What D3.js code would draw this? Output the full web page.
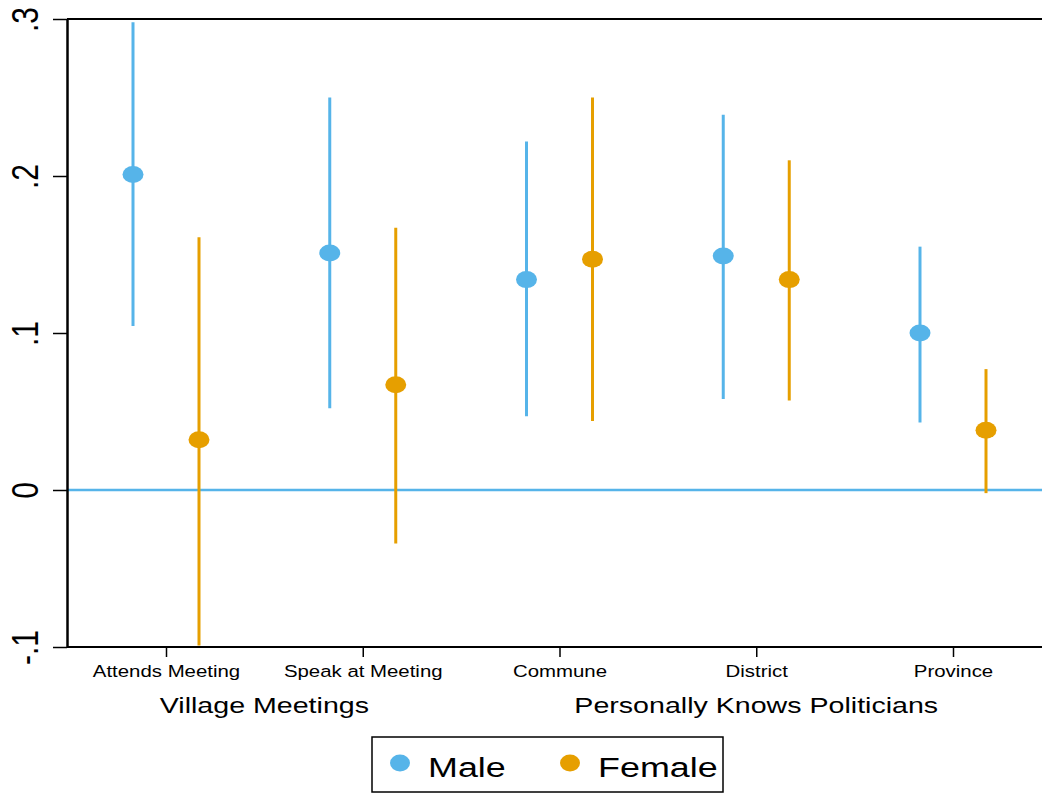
<!DOCTYPE html>
<html><head><meta charset="utf-8">
<script src="https://cdn.jsdelivr.net/npm/d3@7"></script>
<style>body{margin:0;background:#fff}svg{display:block}text{font-family:"Liberation Sans",Arial,sans-serif;fill:#000}</style>
</head><body>
<svg id="c" width="1042" height="793"></svg>
<script>
const categories = ["Attends Meeting","Speak at Meeting","Commune","District","Province"];
const groups = [{label:"Village Meetings", cats:["Attends Meeting","Speak at Meeting"]},
                {label:"Personally Knows Politicians", cats:["Commune","District","Province"]}];
const series = ["Male","Female"];
const maleEst = [0.201,0.151,0.134,0.149,0.100];
const maleLo  = [0.1045,0.052,0.047,0.058,0.043];
const maleHi  = [0.298,0.250,0.222,0.239,0.155];
const femaleEst = [0.032,0.067,0.147,0.134,0.038];
const femaleLo  = [-0.099,-0.034,0.044,0.057,-0.002];
const femaleHi  = [0.161,0.167,0.250,0.210,0.077];
const yTicks = [-0.1,0,0.1,0.2,0.3];
const yTickLabels = ["-.1","0",".1",".2",".3"];
const colors = {Male:"#56B4E9", Female:"#E69F00"};

const svg = d3.select("#c");
const pL = 67, pR = 1042, pT = 19, pB = 647;
const y = d3.scaleLinear().domain([-0.1,0.3]).range([pB,pT]);
const x = d3.scalePoint().domain(categories).range([166,953]);
const off = d3.scaleBand().domain(series).range([-66,66]);
const sx = s => off(s) + off.bandwidth()/2;

// frame
svg.append("line").attr("x1",pL).attr("x2",pR).attr("y1",pT).attr("y2",pT).attr("stroke","#000").attr("stroke-width",2);
// zero line
svg.append("line").attr("x1",pL).attr("x2",pR).attr("y1",y(0)).attr("y2",y(0)).attr("stroke",colors.Male).attr("stroke-width",2.5);

// y axis
const ya = svg.append("g").attr("transform",`translate(${pL},0)`)
  .call(d3.axisLeft(y).tickValues(yTicks).tickSize(14).tickSizeOuter(0).tickFormat((d,i)=>yTickLabels[i]));
ya.select(".domain").attr("stroke","#000").attr("stroke-width",2.5);
ya.selectAll(".tick line").attr("stroke","#000").attr("stroke-width",1.5);
ya.selectAll(".tick text").remove();
ya.selectAll(".tick").append("text")
  .attr("transform","translate(-29,0) scale(1.2,1) rotate(-90)")
  .attr("text-anchor","middle")
  .style("font-size","30px").style("font-family",'"Liberation Sans",Arial,sans-serif').attr("fill","#000")
  .text((d,i)=>yTickLabels[i]);

// x axis
const xa = svg.append("g").attr("transform",`translate(0,${pB})`)
  .call(d3.axisBottom(x).tickSize(10).tickSizeOuter(0));
xa.select(".domain").attr("d",`M${pL},0H${pR}`).attr("stroke","#000").attr("stroke-width",2);
xa.selectAll(".tick line").attr("stroke","#000").attr("stroke-width",1.5);
xa.selectAll(".tick text").remove();
xa.selectAll(".tick").append("text")
  .attr("transform","translate(0,30) scale(1.2,1)")
  .attr("text-anchor","middle")
  .style("font-size","17px").style("font-family",'"Liberation Sans",Arial,sans-serif').attr("fill","#000")
  .text(d=>d);

// group labels
groups.forEach(g=>{
  const cx = d3.mean(g.cats, c=>x(c));
  svg.append("text").attr("transform",`translate(${cx},713) scale(1.3,1)`)
    .attr("text-anchor","middle").style("font-size","22px").text(g.label);
});

// data
const data = [];
categories.forEach((c,i)=>{
  data.push({c, s:"Male", est:maleEst[i], lo:maleLo[i], hi:maleHi[i]});
  data.push({c, s:"Female", est:femaleEst[i], lo:femaleLo[i], hi:femaleHi[i]});
});
const g = svg.append("g");
g.selectAll("line.ci").data(data).join("line").attr("class","ci")
  .attr("x1",d=>x(d.c)+sx(d.s)).attr("x2",d=>x(d.c)+sx(d.s))
  .attr("y1",d=>y(d.lo)).attr("y2",d=>y(d.hi))
  .attr("stroke",d=>colors[d.s]).attr("stroke-width",3);
g.selectAll("ellipse.pt").data(data).join("ellipse").attr("class","pt")
  .attr("cx",d=>x(d.c)+sx(d.s)).attr("cy",d=>y(d.est))
  .attr("rx",10.5).attr("ry",8.5).attr("fill",d=>colors[d.s]);

// legend
const lg = svg.append("g");
lg.append("rect").attr("x",372).attr("y",737).attr("width",351).attr("height",55)
  .attr("fill","none").attr("stroke","#000").attr("stroke-width",1.5);
const lx = [400,570];
series.forEach((s,i)=>{
  lg.append("ellipse").attr("cx",lx[i]).attr("cy",763).attr("rx",10).attr("ry",8.5).attr("fill",colors[s]);
  lg.append("text").attr("transform",`translate(${lx[i]+28},777) scale(1.33,1)`)
    .style("font-size","27px").text(s);
});
</script>
</body></html>
